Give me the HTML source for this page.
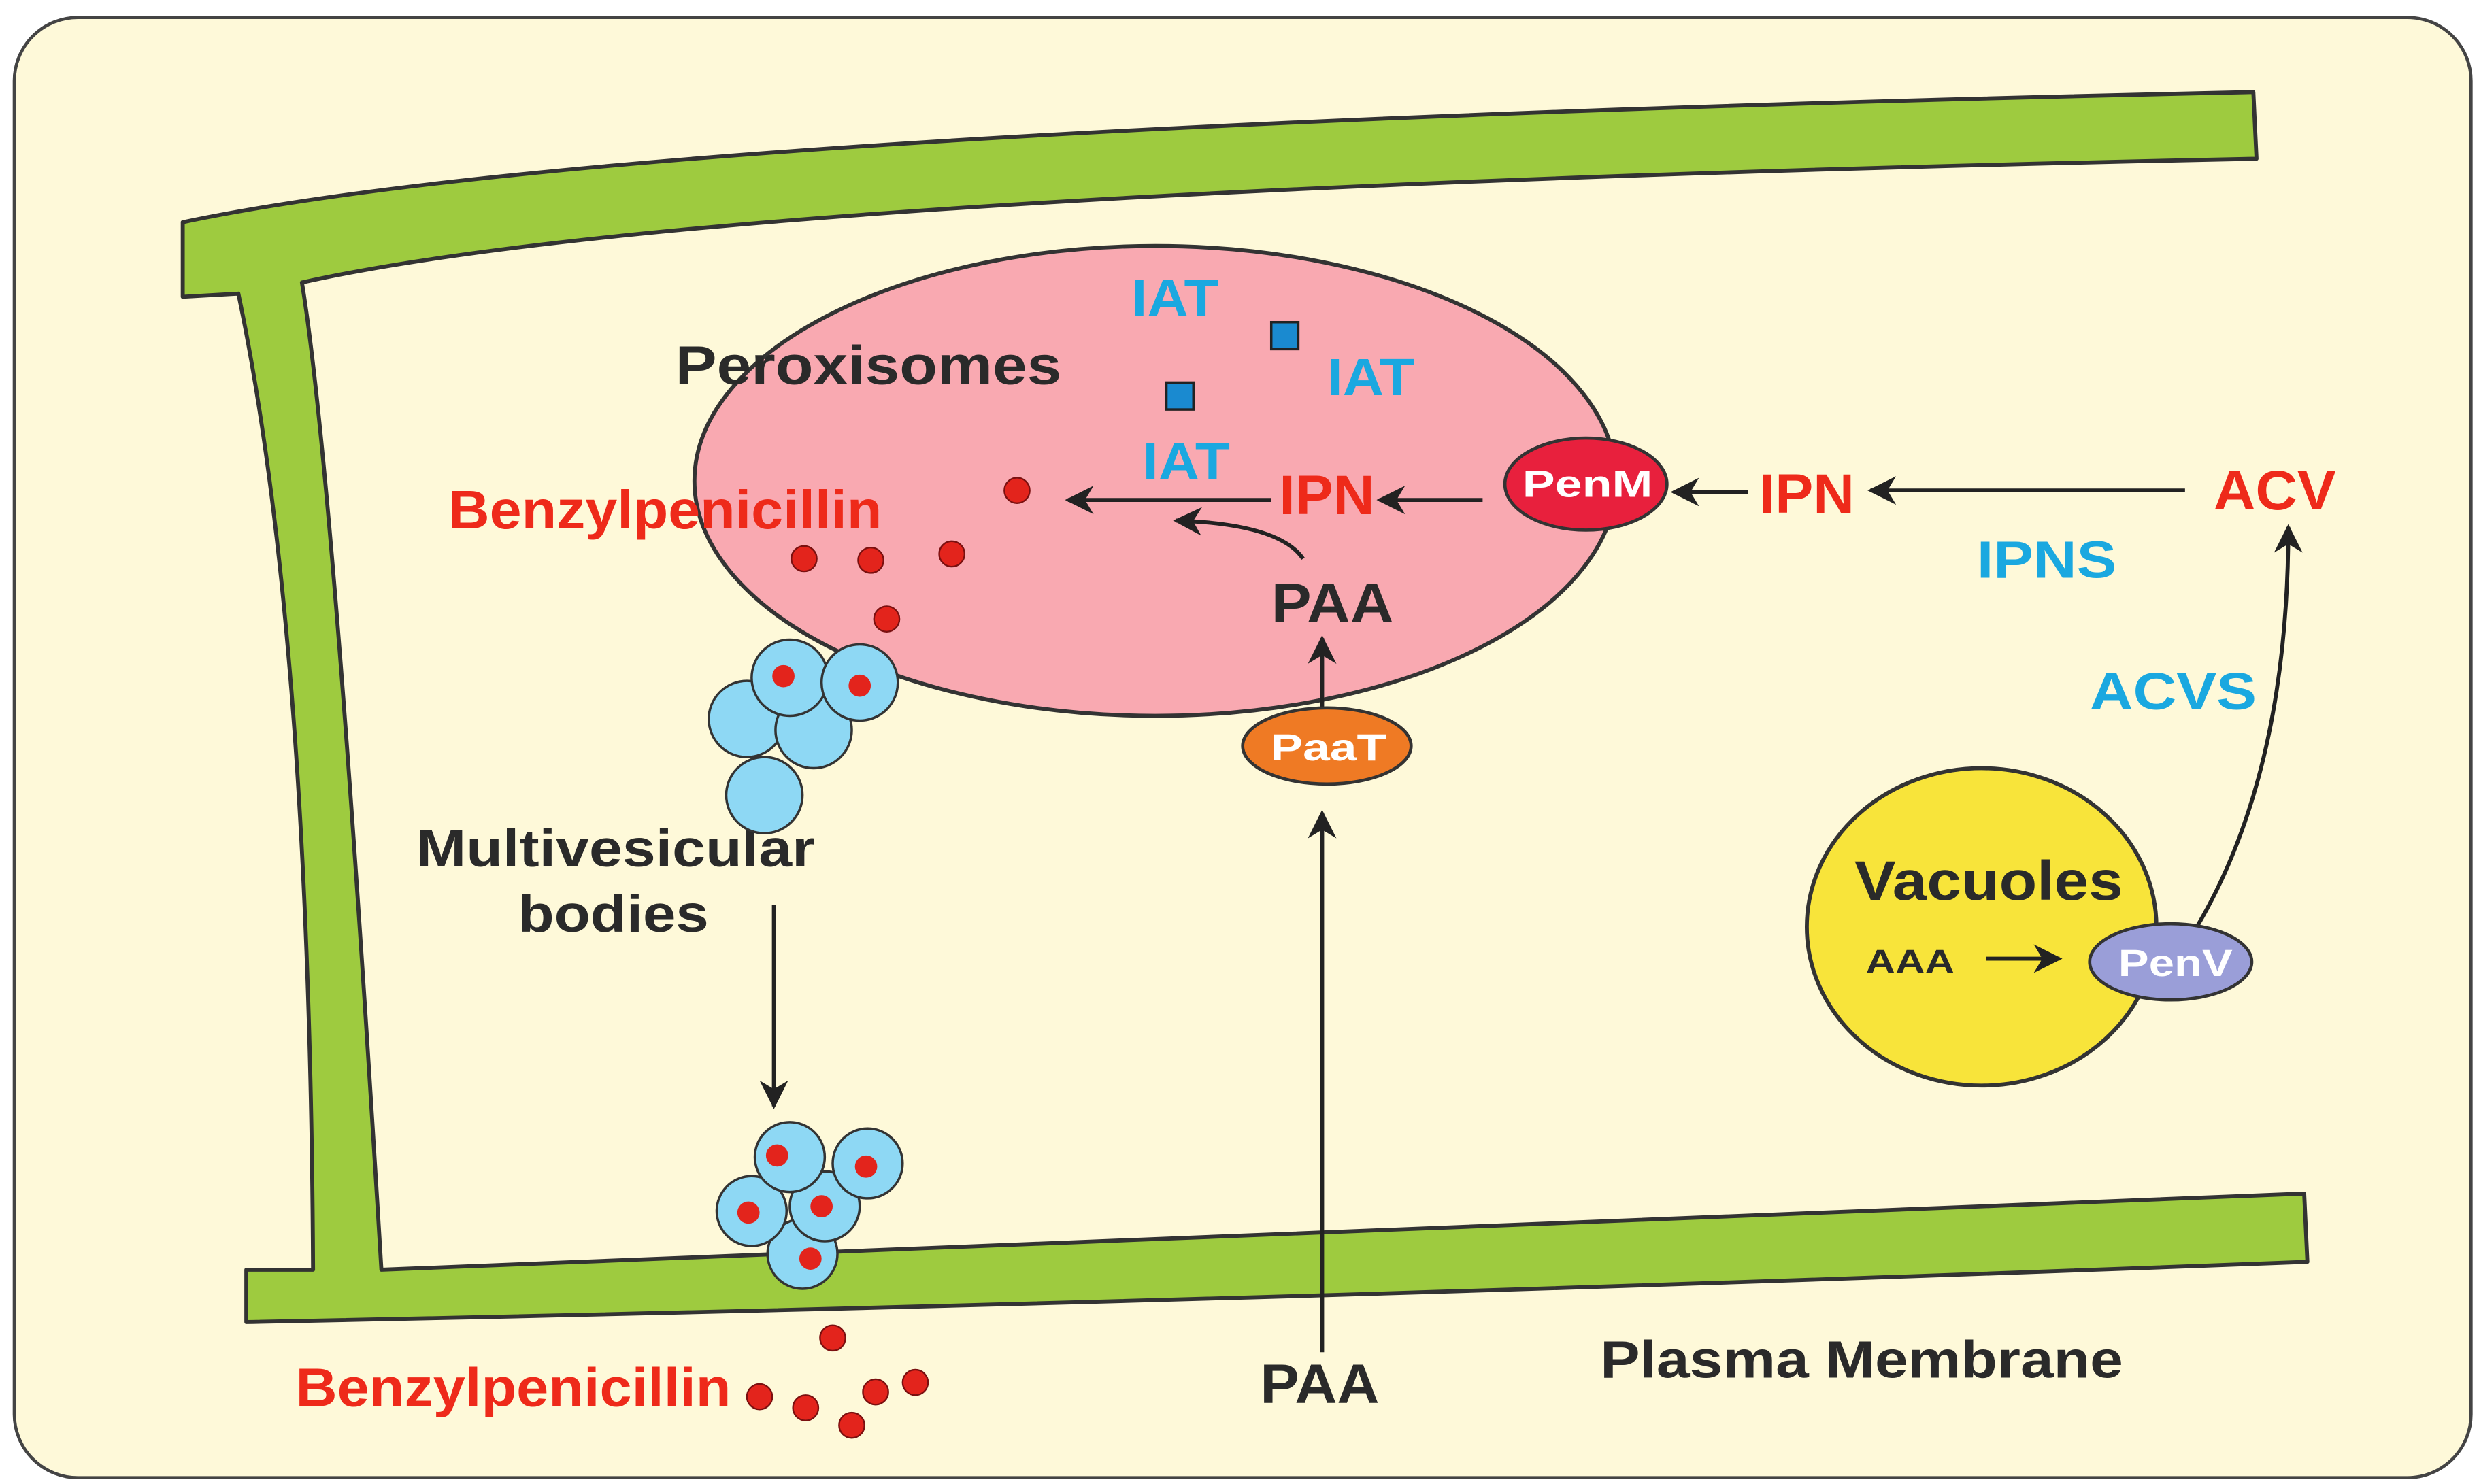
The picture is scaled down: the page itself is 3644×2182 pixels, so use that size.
<!DOCTYPE html>
<html><head><style>html,body{margin:0;padding:0;background:#fff}svg{display:block}</style></head><body>
<svg width="3644" height="2182" viewBox="0 0 1560 935" preserveAspectRatio="none" xmlns="http://www.w3.org/2000/svg" font-family="Liberation Sans, sans-serif" font-weight="bold">
<defs>
<marker id="ah2" viewBox="0 0 10 10" refX="9" refY="5" markerWidth="18" markerHeight="18" orient="auto" markerUnits="userSpaceOnUse"><path d="M0,0 L10,5 L0,10 L3,5 z" fill="#222"/></marker>
</defs>
<rect x="9" y="11" width="1546" height="920" rx="40" fill="#fef9d9" stroke="#444" stroke-width="2"/>
<path d="M115,140 Q400,80 1418,58 L1420,100 Q450,120 190,178 Q210,300 240,800 L1450,752 L1452,795 Q800,820 155,833 L155,800 L197,800 Q195,400 150,185 L115,187 Z" fill="#9ecb3f" stroke="#333" stroke-width="2.5" stroke-linejoin="round"/>
<ellipse cx="727" cy="303" rx="290" ry="148" fill="#f9a9b1" stroke="#333" stroke-width="2.5"/>
<ellipse cx="1247" cy="584" rx="110" ry="100" fill="#f8e43a" stroke="#333" stroke-width="2.5"/>
<text x="425" y="242" font-size="34" fill="#2a2a2a" textLength="243" lengthAdjust="spacingAndGlyphs">Peroxisomes</text>
<text x="712" y="199" font-size="33" fill="#1aa8e0" textLength="55" lengthAdjust="spacingAndGlyphs">IAT</text>
<text x="835" y="249" font-size="33" fill="#1aa8e0" textLength="55" lengthAdjust="spacingAndGlyphs">IAT</text>
<text x="719" y="302" font-size="33" fill="#1aa8e0" textLength="55" lengthAdjust="spacingAndGlyphs">IAT</text>
<text x="282" y="333" font-size="34" fill="#ee2a1a" textLength="273" lengthAdjust="spacingAndGlyphs">Benzylpenicillin</text>
<text x="805" y="324" font-size="35" fill="#ee2a1a" textLength="60" lengthAdjust="spacingAndGlyphs">IPN</text>
<text x="800" y="392" font-size="35" fill="#2a2a2a" textLength="77" lengthAdjust="spacingAndGlyphs">PAA</text>
<text x="1107" y="323" font-size="35" fill="#ee2a1a" textLength="60" lengthAdjust="spacingAndGlyphs">IPN</text>
<text x="1393" y="321" font-size="35" fill="#ee2a1a" textLength="77" lengthAdjust="spacingAndGlyphs">ACV</text>
<text x="1244" y="364" font-size="33" fill="#1aa8e0" textLength="88" lengthAdjust="spacingAndGlyphs">IPNS</text>
<text x="1315" y="447" font-size="33" fill="#1aa8e0" textLength="105" lengthAdjust="spacingAndGlyphs">ACVS</text>
<text x="262" y="546" font-size="33" fill="#2a2a2a" textLength="251" lengthAdjust="spacingAndGlyphs">Multivesicular</text>
<text x="326" y="587" font-size="33" fill="#2a2a2a" textLength="120" lengthAdjust="spacingAndGlyphs">bodies</text>
<text x="1167" y="567" font-size="35" fill="#2a2a2a" textLength="169" lengthAdjust="spacingAndGlyphs">Vacuoles</text>
<text x="1174" y="613" font-size="21" fill="#2a2a2a" textLength="56" lengthAdjust="spacingAndGlyphs">AAA</text>
<text x="186" y="886" font-size="34" fill="#ee2a1a" textLength="274" lengthAdjust="spacingAndGlyphs">Benzylpenicillin</text>
<text x="793" y="884" font-size="35" fill="#2a2a2a" textLength="75" lengthAdjust="spacingAndGlyphs">PAA</text>
<text x="1007" y="868" font-size="33" fill="#2a2a2a" textLength="329" lengthAdjust="spacingAndGlyphs">Plasma Membrane</text>
<rect x="800" y="203" width="17" height="17" fill="#1a8ad0" stroke="#222" stroke-width="1.5"/>
<rect x="734" y="241" width="17" height="17" fill="#1a8ad0" stroke="#222" stroke-width="1.5"/>
<g fill="#e3241c" stroke="#7a1010" stroke-width="1">
<circle cx="640" cy="309" r="8"/><circle cx="506" cy="352" r="8"/><circle cx="548" cy="353" r="8"/><circle cx="599" cy="349" r="8"/><circle cx="558" cy="390" r="8"/>
</g>
<line x1="800" y1="315" x2="672" y2="315" stroke="#222" stroke-width="2.5" marker-end="url(#ah2)"/>
<line x1="933" y1="315" x2="868" y2="315" stroke="#222" stroke-width="2.5" marker-end="url(#ah2)"/>
<path d="M820,352 Q805,330 740,328" fill="none" stroke="#222" stroke-width="2.5" marker-end="url(#ah2)"/>
<ellipse cx="998" cy="305" rx="51" ry="29" fill="#e8203d" stroke="#333" stroke-width="2"/>
<text x="999" y="313" font-size="24" fill="#fff" text-anchor="middle" textLength="82" lengthAdjust="spacingAndGlyphs">PenM</text>
<line x1="1100" y1="310" x2="1053" y2="310" stroke="#222" stroke-width="2.5" marker-end="url(#ah2)"/>
<line x1="1375" y1="309" x2="1177" y2="309" stroke="#222" stroke-width="2.5" marker-end="url(#ah2)"/>
<path d="M1380,588 Q1440,490 1440,332" fill="none" stroke="#222" stroke-width="2.5" marker-end="url(#ah2)"/>
<line x1="832" y1="448" x2="832" y2="402" stroke="#222" stroke-width="2.5" marker-end="url(#ah2)"/>
<ellipse cx="835" cy="470" rx="53" ry="24" fill="#ef7a24" stroke="#333" stroke-width="2"/>
<text x="836" y="479" font-size="24" fill="#fff" text-anchor="middle" textLength="73" lengthAdjust="spacingAndGlyphs">PaaT</text>
<line x1="832" y1="852" x2="832" y2="512" stroke="#222" stroke-width="2.5" marker-end="url(#ah2)"/>
<line x1="1250" y1="604" x2="1296" y2="604" stroke="#222" stroke-width="2.5" marker-end="url(#ah2)"/>
<ellipse cx="1366" cy="606" rx="51" ry="24" fill="#9a9ed8" stroke="#333" stroke-width="2"/>
<text x="1369" y="615" font-size="24" fill="#fff" text-anchor="middle" textLength="72" lengthAdjust="spacingAndGlyphs">PenV</text>
<g fill="#8ed8f4" stroke="#333" stroke-width="1.5">
<circle cx="481" cy="501" r="24"/><circle cx="470" cy="453" r="24"/><circle cx="512" cy="460" r="24"/><circle cx="497" cy="427" r="24"/><circle cx="541" cy="430" r="24"/>
</g>
<circle cx="493" cy="426" r="7" fill="#e3241c"/><circle cx="541" cy="432" r="7" fill="#e3241c"/>
<line x1="487" y1="570" x2="487" y2="697" stroke="#222" stroke-width="2.5" marker-end="url(#ah2)"/>
<g fill="#8ed8f4" stroke="#333" stroke-width="1.5">
<circle cx="505" cy="790" r="22"/><circle cx="473" cy="763" r="22"/><circle cx="519" cy="760" r="22"/><circle cx="497" cy="729" r="22"/><circle cx="546" cy="733" r="22"/>
</g>
<g fill="#e3241c">
<circle cx="489" cy="728" r="7"/><circle cx="545" cy="735" r="7"/><circle cx="471" cy="764" r="7"/><circle cx="517" cy="760" r="7"/><circle cx="510" cy="793" r="7"/>
</g>
<g fill="#e3241c" stroke="#7a1010" stroke-width="1">
<circle cx="524" cy="843" r="8"/><circle cx="478" cy="880" r="8"/><circle cx="507" cy="887" r="8"/><circle cx="551" cy="877" r="8"/><circle cx="576" cy="871" r="8"/><circle cx="536" cy="898" r="8"/>
</g>
</svg>
</body></html>
